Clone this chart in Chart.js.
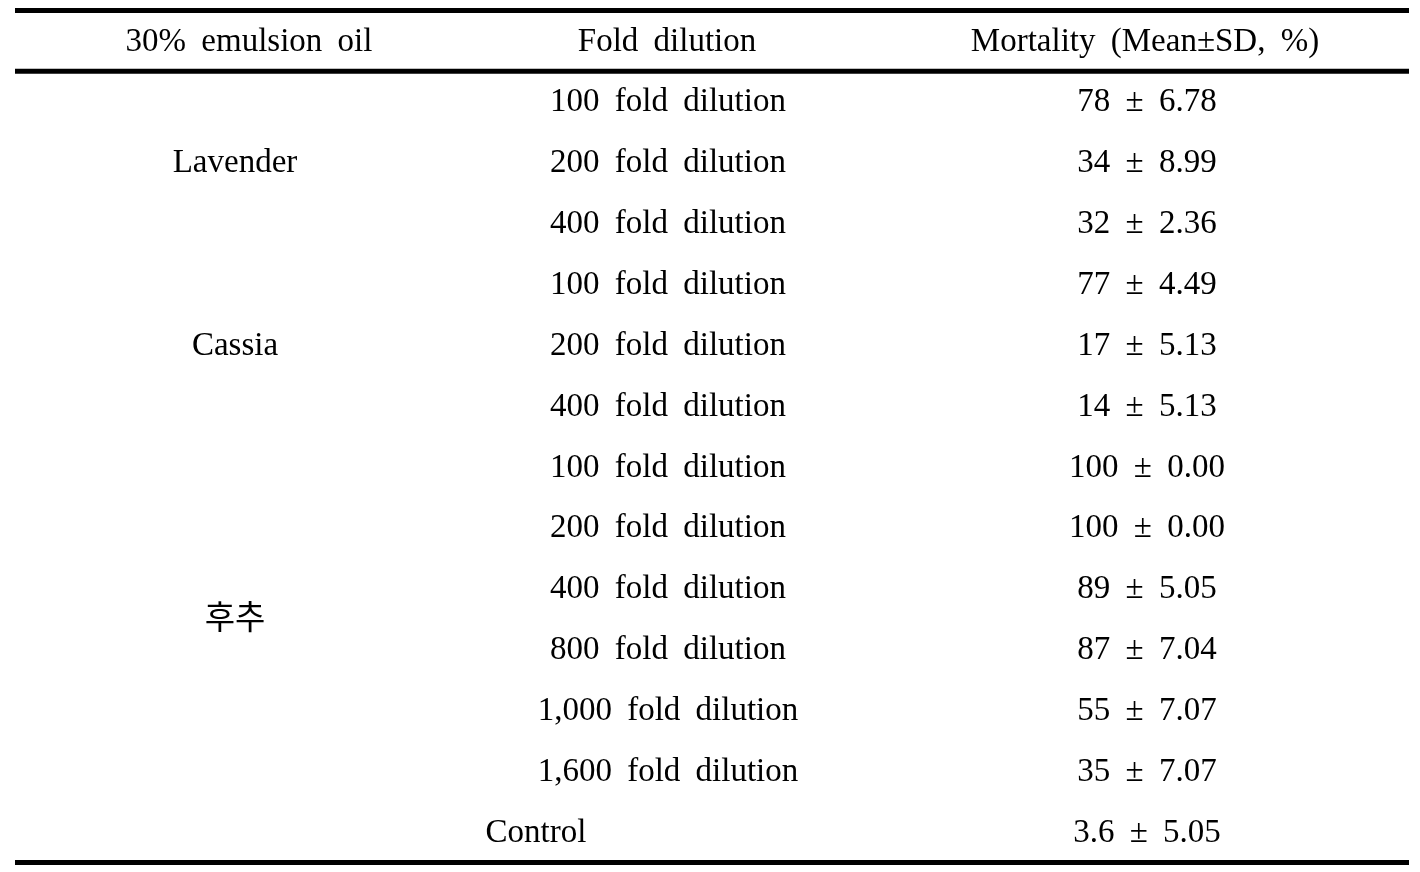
<!DOCTYPE html>
<html>
<head>
<meta charset="utf-8">
<script src="https://cdn.jsdelivr.net/npm/chart.js@4"></script>
<style>
    html, body { margin: 0; padding: 0; background: #fff; }
    canvas { display: block; }
</style>
</head>
<body>
<canvas id="tableChart" width="1420" height="872"></canvas>
<script>
// Datos de la tabla
const headers = ['30% emulsion oil', 'Fold dilution', 'Mortality (Mean±SD, %)'];
const oils = ['Lavender', 'Cassia', '후추'];
const oilRows = [[0, 2], [3, 5], [6, 11]];
const dilutions = [
    '100 fold dilution', '200 fold dilution', '400 fold dilution',
    '100 fold dilution', '200 fold dilution', '400 fold dilution',
    '100 fold dilution', '200 fold dilution', '400 fold dilution',
    '800 fold dilution', '1,000 fold dilution', '1,600 fold dilution',
    'Control'
];
const means = [78, 34, 32, 77, 17, 14, 100, 100, 89, 87, 55, 35, 3.6];
const sds = [6.78, 8.99, 2.36, 4.49, 5.13, 5.13, 0.00, 0.00, 5.05, 7.04, 7.07, 7.07, 5.05];

// Posiciones de columnas (en unidades del eje x)
const colX = [235, 668, 1147];
const headerX = [249, 667, 1145];
const controlX = 536;
const lineStart = 15;
const lineEnd = 1409;

const FONT = '33px "Liberation Serif", "Noto Sans CJK KR", serif';

const tablePlugin = {
    id: 'tablePlugin',
    afterDatasetsDraw(chart) {
        const ctx = chart.ctx;
        const xs = chart.scales.x;
        const ys = chart.scales.y;
        ctx.save();
        ctx.fillStyle = '#000';
        ctx.font = FONT;
        ctx.textAlign = 'center';
        ctx.textBaseline = 'middle';
        if ('wordSpacing' in ctx) ctx.wordSpacing = '7px';

        const text = (s, x, y) => ctx.fillText(s, xs.getPixelForValue(x), ys.getPixelForValue(y) + 1);

        // Encabezado
        headers.forEach((h, i) => text(h, headerX[i], -1));

        // Nombres de aceites
        oils.forEach((o, i) => text(o, colX[0], (oilRows[i][0] + oilRows[i][1]) / 2));

        // Diluciones y mortalidad
        dilutions.forEach((d, i) => {
            const isControl = d === 'Control';
            text(d, isControl ? controlX : colX[1], i);
            text(means[i] + ' ± ' + sds[i].toFixed(2), colX[2], i);
        });

        // Líneas horizontales
        ctx.strokeStyle = '#000';
        ctx.lineWidth = 5;
        [-1.5, -0.5, dilutions.length - 0.5].forEach(v => {
            const y = ys.getPixelForValue(v);
            ctx.beginPath();
            ctx.moveTo(xs.getPixelForValue(lineStart), y);
            ctx.lineTo(xs.getPixelForValue(lineEnd), y);
            ctx.stroke();
        });
        ctx.restore();
    }
};

new Chart(document.getElementById('tableChart').getContext('2d'), {
    type: 'scatter',
    data: {
        datasets: [{
            data: means.map((m, i) => ({ x: colX[2], y: i })),
            pointRadius: 0
        }]
    },
    options: {
        responsive: false,
        animation: false,
        devicePixelRatio: 1,
        layout: { padding: { top: 10.5, bottom: 9.5, left: 0, right: 0 } },
        scales: {
            x: { type: 'linear', min: 0, max: 1420, display: false },
            y: { type: 'linear', min: -1.5, max: dilutions.length - 0.5, reverse: true, display: false }
        },
        plugins: {
            legend: { display: false },
            tooltip: { enabled: false }
        }
    },
    plugins: [tablePlugin]
});
</script>
</body>
</html>
